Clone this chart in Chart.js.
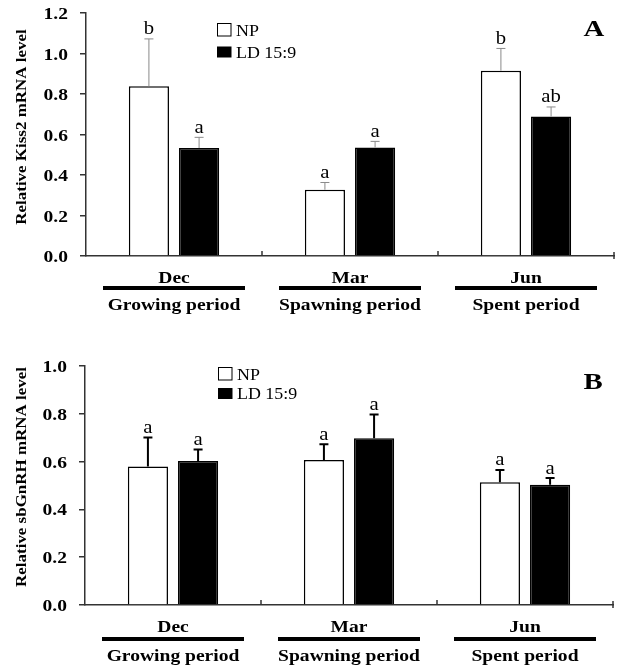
<!DOCTYPE html>
<html>
<head>
<meta charset="utf-8">
<script src="https://cdn.jsdelivr.net/npm/chart.js@4.4.1/dist/chart.umd.min.js"></script>
<style>
    html, body { margin: 0; padding: 0; background: #fff; }
    #wrap { position: relative; width: 621px; height: 668px; }
    canvas { position: absolute; left: 0; }
</style>
</head>
<body>
<div id="wrap">
    <canvas id="chart-a" width="621" height="334" style="top:0"></canvas>
    <canvas id="chart-b" width="621" height="334" style="top:334px"></canvas>
</div>
<script>
// --- Data ---
const categories = ['Dec', 'Mar', 'Jun'];
const periods = ['Growing period', 'Spawning period', 'Spent period'];
const seriesNames = ['NP', 'LD 15:9'];

// Panel A: Kiss2
const kissNP = [0.838, 0.327, 0.915];
const kissNPErr = [0.234, 0.036, 0.110];
const kissLD = [0.533, 0.536, 0.689];
const kissLDErr = [0.053, 0.030, 0.047];
const kissNPLetters = ['b', 'a', 'b'];
const kissLDLetters = ['a', 'a', 'ab'];

// Panel B: sbGnRH
const gnrhNP = [0.580, 0.607, 0.514];
const gnrhNPErr = [0.121, 0.066, 0.051];
const gnrhLD = [0.602, 0.698, 0.503];
const gnrhLDErr = [0.049, 0.099, 0.028];
const gnrhNPLetters = ['a', 'a', 'a'];
const gnrhLDLetters = ['a', 'a', 'a'];

const SERIF = '"Liberation Serif", "Times New Roman", serif';

// --- Helpers ---
function stretchText(ctx, text, x, y, font, align, sx) {
    ctx.save();
    ctx.font = font;
    ctx.textAlign = align;
    ctx.textBaseline = 'alphabetic';
    ctx.translate(x, y);
    ctx.scale(sx, 1);
    ctx.fillText(text, 0, 0);
    ctx.restore();
}

const decorPlugin = {
    id: 'decor',
    afterDatasetsDraw(chart, args, opts) {
        const ctx = chart.ctx;
        const xs = chart.scales.x;
        const ys = chart.scales.y;
        const area = chart.chartArea;
        ctx.save();
        ctx.fillStyle = '#000';

        // y tick labels
        ys.ticks.forEach(t => {
            const py = ys.getPixelForValue(t.value);
            stretchText(ctx, t.value.toFixed(1), area.left - 18, py + 6, `bold 16px ${SERIF}`, 'right', 1.22);
        });

        // y title
        ctx.save();
        ctx.translate(opts.titleX, opts.titleY);
        ctx.rotate(-Math.PI / 2);
        ctx.scale(1.13, 1);
        ctx.font = `bold 15px ${SERIF}`;
        ctx.textAlign = 'center';
        ctx.textBaseline = 'middle';
        ctx.fillText(opts.yTitle, 0, 0);
        ctx.restore();

        // boundary ticks on x axis
        ctx.strokeStyle = '#333';
        ctx.lineWidth = 1.5;
        for (let i = 0; i < categories.length - 1; i++) {
            const bx = (xs.getPixelForValue(i) + xs.getPixelForValue(i + 1)) / 2;
            ctx.beginPath();
            ctx.moveTo(bx, area.bottom);
            ctx.lineTo(bx, area.bottom - 5);
            ctx.stroke();
        }
        ctx.beginPath();
        ctx.moveTo(area.right, area.bottom - 4);
        ctx.lineTo(area.right, area.bottom + 3);
        ctx.stroke();

        // error bars + significance letters
        chart.data.datasets.forEach((ds, di) => {
            const meta = chart.getDatasetMeta(di);
            meta.data.forEach((bar, i) => {
                const top = ys.getPixelForValue(ds.data[i] + ds.errors[i]);
                ctx.strokeStyle = opts.errColor;
                ctx.lineWidth = opts.errWidth;
                ctx.beginPath();
                ctx.moveTo(bar.x, bar.y);
                ctx.lineTo(bar.x, top);
                ctx.moveTo(bar.x - 4.5, top);
                ctx.lineTo(bar.x + 4.5, top);
                ctx.stroke();
                stretchText(ctx, ds.letters[i], bar.x, top - 4.5, `18px ${SERIF}`, 'center', 1.15);
            });
        });

        // category and period labels
        categories.forEach((c, i) => {
            const cx = xs.getPixelForValue(i);
            stretchText(ctx, c, cx, area.bottom + 27, `bold 17px ${SERIF}`, 'center', 1.15);
            ctx.fillRect(cx - 71, area.bottom + opts.lineOffset - 2, 142, 4);
            stretchText(ctx, periods[i], cx, area.bottom + opts.periodOffset, `bold 17px ${SERIF}`, 'center', 1.15);
        });

        // legend
        const lx = opts.legendX, ly = opts.legendY;
        ctx.fillStyle = '#fff';
        ctx.fillRect(lx, ly, 14, 13);
        ctx.strokeStyle = '#000';
        ctx.lineWidth = 1;
        ctx.strokeRect(lx + 0.5, ly + 0.5, 13.5, 12.5);
        ctx.fillStyle = '#000';
        ctx.fillRect(lx, ly + opts.legendGap, 14.5, 11);
        stretchText(ctx, seriesNames[0], lx + 19, ly + 13, `16px ${SERIF}`, 'left', 1.12);
        stretchText(ctx, seriesNames[1], lx + 19, ly + opts.legendGap + 11, `16px ${SERIF}`, 'left', 1.12);

        // panel letter
        stretchText(ctx, opts.panel, opts.panelX, opts.panelY, `bold 24px ${SERIF}`, 'center', 1.2);

        ctx.restore();
    }
};

function makeChart(canvasId, npData, npErr, npLetters, ldData, ldErr, ldLetters, yMax, layout, deco) {
    return new Chart(document.getElementById(canvasId), {
        type: 'bar',
        data: {
            labels: categories,
            datasets: [
                {
                    label: seriesNames[0],
                    data: npData,
                    errors: npErr,
                    letters: npLetters,
                    backgroundColor: '#fff',
                    borderColor: '#000',
                    borderWidth: 1.5,
                    borderSkipped: 'start',
                    categoryPercentage: 0.57,
                    barPercentage: 0.8
                },
                {
                    label: seriesNames[1],
                    data: ldData,
                    errors: ldErr,
                    letters: ldLetters,
                    backgroundColor: '#000',
                    borderColor: '#000',
                    borderWidth: 1.5,
                    borderSkipped: 'start',
                    categoryPercentage: 0.57,
                    barPercentage: 0.8
                }
            ]
        },
        options: {
            responsive: false,
            animation: false,
            devicePixelRatio: 1,
            events: [],
            layout: { padding: { top: layout.top, right: layout.right, bottom: 0, left: 0 } },
            scales: {
                x: {
                    grid: { display: false },
                    border: { display: true, color: '#333', width: 1.5 },
                    ticks: { display: false },
                    afterFit: s => { s.height = layout.xHeight; }
                },
                y: {
                    min: 0,
                    max: yMax,
                    ticks: { display: false, stepSize: 0.2 },
                    grid: { display: true, drawOnChartArea: false, drawTicks: true, tickLength: 6, color: '#333', lineWidth: 1.5 },
                    border: { display: true, color: '#333', width: 1.5 },
                    afterFit: s => { s.width = layout.left; }
                }
            },
            plugins: {
                legend: { display: false },
                tooltip: { enabled: false },
                decor: deco
            }
        },
        plugins: [decorPlugin]
    });
}

makeChart('chart-a', kissNP, kissNPErr, kissNPLetters, kissLD, kissLDErr, kissLDLetters, 1.2,
    { top: 13, right: 7, left: 86, xHeight: 78 },
    {
        yTitle: 'Relative Kiss2 mRNA level', titleX: 22, titleY: 127,
        errColor: '#8a8a8a', errWidth: 1,
        lineOffset: 32, periodOffset: 54,
        legendX: 217, legendY: 23, legendGap: 23.5,
        panel: 'A', panelX: 594, panelY: 36
    });

makeChart('chart-b', gnrhNP, gnrhNPErr, gnrhNPLetters, gnrhLD, gnrhLDErr, gnrhLDLetters, 1.0,
    { top: 32, right: 8, left: 85, xHeight: 63 },
    {
        yTitle: 'Relative sbGnRH mRNA level', titleX: 22, titleY: 143,
        errColor: '#000', errWidth: 2,
        lineOffset: 34, periodOffset: 56,
        legendX: 218, legendY: 33, legendGap: 21,
        panel: 'B', panelX: 593, panelY: 55
    });
</script>
</body>
</html>
